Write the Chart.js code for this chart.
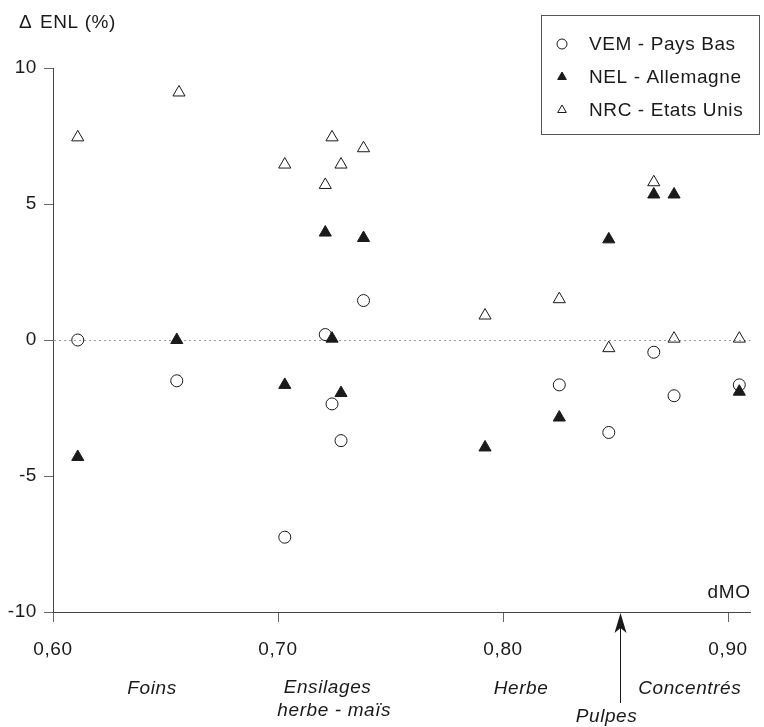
<!DOCTYPE html>
<html>
<head>
<meta charset="utf-8">
<script src="https://cdn.jsdelivr.net/npm/chart.js@4/dist/chart.umd.min.js"></script>
<style>
  html, body { margin: 0; padding: 0; background: #fff; }
  #wrap { width: 764px; height: 727px; }
</style>
</head>
<body>
<div id="wrap"><canvas id="chart" width="764" height="727"></canvas></div>
<script>
// Axis ticks
const xTickValues = [0.60, 0.70, 0.80, 0.90];
const yTickValues = [-10, -5, 0, 5, 10];

// VEM - Pays Bas (open circles)
const vemDmo = [0.611, 0.655, 0.703, 0.721, 0.724, 0.728, 0.738, 0.825, 0.847, 0.867, 0.876, 0.905];
const vemEnl = [0.0, -1.5, -7.25, 0.2, -2.35, -3.7, 1.45, -1.65, -3.4, -0.45, -2.05, -1.65];

// NEL - Allemagne (filled triangles)
const nelDmo = [0.611, 0.655, 0.703, 0.721, 0.724, 0.728, 0.738, 0.792, 0.825, 0.847, 0.867, 0.876, 0.905];
const nelEnl = [-4.3, 0.0, -1.65, 3.95, 0.05, -1.95, 3.75, -3.95, -2.85, 3.7, 5.35, 5.35, -1.9];

// NRC - Etats Unis (open triangles)
const nrcDmo = [0.611, 0.656, 0.703, 0.721, 0.724, 0.728, 0.738, 0.792, 0.825, 0.847, 0.867, 0.876, 0.905];
const nrcEnl = [7.45, 9.1, 6.45, 5.7, 7.45, 6.45, 7.05, 0.9, 1.5, -0.3, 5.8, 0.05, 0.05];

// Feed groups under the x axis
const groupNames = ['Foins', 'Ensilages', 'herbe - maïs', 'Herbe', 'Concentrés', 'Pulpes'];
const groupDmo = [0.644, 0.722, 0.725, 0.808, 0.883, 0.846];
const pulpesDmo = 0.852;

const seriesLabels = ['VEM - Pays Bas', 'NEL - Allemagne', 'NRC - Etats Unis'];

const FONT = '"Liberation Sans", Arial, Helvetica, sans-serif';
const INK = '#1a1a1a';
const SPACING = '0.6px';

function toPoints(xs, ys) {
    return xs.map((x, i) => ({ x: x, y: ys[i] }));
}

const styles = [
    { pointStyle: 'circle', radius: 6, fill: 'rgba(0,0,0,0)' },
    { pointStyle: 'triangle', radius: 7, fill: INK },
    { pointStyle: 'triangle', radius: 7, fill: 'rgba(0,0,0,0)' }
];

// the scanned lettering is a bit wider than plain Arial
const letterSpacing = {
    id: 'letterSpacing',
    beforeUpdate(chart) { chart.ctx.letterSpacing = SPACING; },
    beforeDraw(chart) { chart.ctx.letterSpacing = SPACING; }
};

// legend box + extra texts + Pulpes arrow
const annotations = {
    id: 'annotations',
    afterDraw(chart) {
        const ctx = chart.ctx;
        const xs = chart.scales.x;
        const area = chart.chartArea;
        ctx.save();
        ctx.letterSpacing = SPACING;
        ctx.fillStyle = INK;
        ctx.strokeStyle = INK;
        ctx.font = '19px ' + FONT;
        ctx.textBaseline = 'middle';

        // axis titles
        ctx.textAlign = 'left';
        ctx.fillText('\u0394', 19, 23);
        ctx.fillText('ENL (%)', 40, 23);
        ctx.textAlign = 'right';
        ctx.fillText('dMO', area.right, 593);

        // group labels
        ctx.font = 'italic 19px ' + FONT;
        ctx.textAlign = 'center';
        const rows = [689, 688, 711, 689, 689, 717];
        groupNames.forEach((name, i) => {
            ctx.fillText(name, xs.getPixelForValue(groupDmo[i]), rows[i]);
        });

        // arrow for Pulpes
        const ax = Math.round(xs.getPixelForValue(pulpesDmo)) + 0.5;
        ctx.lineWidth = 1;
        ctx.beginPath();
        ctx.moveTo(ax, 703);
        ctx.lineTo(ax, area.bottom + 10);
        ctx.stroke();
        ctx.beginPath();
        ctx.moveTo(ax, area.bottom + 1);
        ctx.lineTo(ax - 6, area.bottom + 21);
        ctx.lineTo(ax, area.bottom + 16);
        ctx.lineTo(ax + 6, area.bottom + 21);
        ctx.closePath();
        ctx.fill();

        // legend
        const bx = 541, by = 15, bw = 218, bh = 119;
        ctx.lineWidth = 1;
        ctx.strokeStyle = '#555';
        ctx.fillStyle = '#fff';
        ctx.fillRect(bx, by, bw, bh);
        ctx.strokeRect(bx + 0.5, by + 0.5, bw, bh);
        ctx.font = '19px ' + FONT;
        ctx.textAlign = 'left';
        seriesLabels.forEach((label, i) => {
            const y = 44 + i * 33;
            ctx.fillStyle = styles[i].fill;
            ctx.strokeStyle = INK;
            ctx.lineWidth = 1;
            Chart.helpers.drawPoint(ctx, { pointStyle: styles[i].pointStyle, radius: 5, borderWidth: 1, rotation: 0 }, 562, y);
            ctx.fillStyle = INK;
            ctx.fillText(label, 589, y + 1);
        });
        ctx.restore();
    }
};

const datasets = [
    { label: seriesLabels[0], data: toPoints(vemDmo, vemEnl), order: 2 },
    { label: seriesLabels[1], data: toPoints(nelDmo, nelEnl), order: 0 },
    { label: seriesLabels[2], data: toPoints(nrcDmo, nrcEnl), order: 1 }
].map((ds, i) => Object.assign(ds, {
    pointStyle: styles[i].pointStyle,
    pointRadius: styles[i].radius,
    pointHoverRadius: styles[i].radius,
    pointBackgroundColor: styles[i].fill,
    pointBorderColor: INK,
    pointBorderWidth: 1,
    showLine: false
}));

new Chart(document.getElementById('chart'), {
    type: 'scatter',
    data: { datasets: datasets },
    options: {
        responsive: false,
        animation: false,
        layout: { padding: { top: 68, right: 5, left: 0, bottom: 0 } },
        plugins: {
            legend: { display: false },
            tooltip: { enabled: false }
        },
        scales: {
            x: {
                type: 'linear',
                min: 0.60,
                max: 0.91,
                afterBuildTicks: scale => { scale.ticks = xTickValues.map(v => ({ value: v })); },
                afterFit: scale => { scale.height = 115; },
                ticks: {
                    color: INK,
                    font: { family: FONT, size: 19 },
                    padding: 16,
                    maxRotation: 0,
                    callback: v => v.toFixed(2).replace('.', ',')
                },
                grid: {
                    drawOnChartArea: false,
                    drawTicks: true,
                    tickLength: 10,
                    tickColor: '#666'
                },
                border: { display: true, color: '#444', width: 1 }
            },
            y: {
                type: 'linear',
                min: -10,
                max: 10,
                afterBuildTicks: scale => { scale.ticks = yTickValues.map(v => ({ value: v })); },
                afterFit: scale => { scale.width = 53; },
                ticks: {
                    color: INK,
                    font: { family: FONT, size: 19 },
                    padding: 7
                },
                grid: {
                    color: ctx => (ctx.tick && ctx.tick.value === 0) ? '#9a9a9a' : 'rgba(0,0,0,0)',
                    tickColor: '#666',
                    tickLength: 9,
                    lineWidth: 1
                },
                border: { display: true, color: '#444', width: 1, dash: [2, 3] }
            }
        }
    },
    plugins: [letterSpacing, annotations]
});
</script>
</body>
</html>
